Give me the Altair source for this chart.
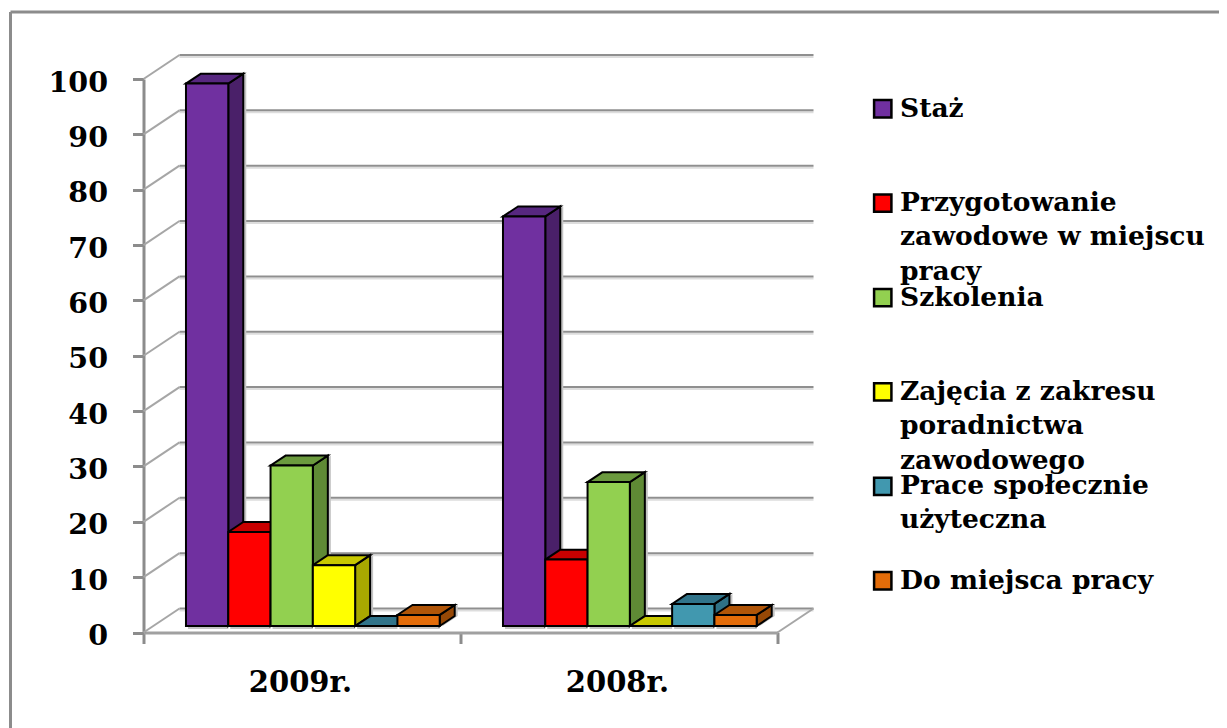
import altair as alt
import pandas as pd

categories = ["2009r.", "2008r."]
series = [
    "Staż",
    "Przygotowanie|zawodowe w miejscu|pracy",
    "Szkolenia",
    "Zajęcia z zakresu|poradnictwa|zawodowego",
    "Prace społecznie|użyteczna",
    "Do miejsca pracy",
]
values_2009 = [98, 17, 29, 11, 0, 2]
values_2008 = [74, 12, 26, 0, 4, 2]
front_colors = ["#7030a0", "#ff0000", "#92d050", "#ffff00", "#4198af", "#e36c09"]
side_colors = ["#4a2069", "#a80000", "#5f8a35", "#a8a800", "#2f7186", "#964806"]
top_colors = ["#572780", "#c80000", "#6b9a3e", "#c8c800", "#31748a", "#b05508"]
y_ticks = list(range(0, 101, 10))

# oblique projection, in axis units
BAR_START, BAR_W = 0.134, 0.1334
BAR_DX, BAR_DY = 0.0473, 1.8
WALL_DX, WALL_DY = 0.1136, 4.34
LIFT = 1.17

# legend continuation lines, in axis units
LEG_X = 2.3865
LEG_Y0, LEG_ROW, LEG_LINE = 93.25, 17.0, 6.32

fronts, sides, tops = [], [], []
for g, vals in enumerate([values_2009, values_2008]):
    for s, v in enumerate(vals):
        bid = f"{g}-{s}"
        xl = g + BAR_START + s * BAR_W
        xr = xl + BAR_W
        low, high = LIFT, LIFT + v
        fronts.append(dict(bid=bid, series=series[s], xl=xl, xr=xr, low=low, high=high))
        sides.append(dict(bid=bid, col=side_colors[s], x=xr, y=low, y2=high))
        sides.append(dict(bid=bid, col=side_colors[s], x=xr + BAR_DX, y=low + BAR_DY, y2=high + BAR_DY))
        tops.append(dict(bid=bid, col=top_colors[s], y=high, x=xl, x2=xr))
        tops.append(dict(bid=bid, col=top_colors[s], y=high + BAR_DY, x=xl + BAR_DX, x2=xr + BAR_DX))
fronts, sides, tops = pd.DataFrame(fronts), pd.DataFrame(sides), pd.DataFrame(tops)

grid = pd.DataFrame([dict(v=t, vb=t + WALL_DY, x0=0, xb=WALL_DX, xe=2 + WALL_DX) for t in y_ticks])
floor_right = pd.DataFrame([dict(x=2, y=0, x2=2 + WALL_DX, y2=WALL_DY)])
labels = pd.DataFrame([dict(x=i + 0.5, t=c) for i, c in enumerate(categories)])

more_lines = []
for r, name in enumerate(series):
    for k, line in enumerate(name.split("|")[1:], start=1):
        more_lines.append(dict(x=LEG_X, y=LEG_Y0 - r * LEG_ROW - k * LEG_LINE, t=line))
more_lines = pd.DataFrame(more_lines)

FONT = "DejaVu Serif"
LEG_SIZE = 26.5
xs = alt.Scale(domain=[0, 2], nice=False, zero=False)
ys = alt.Scale(domain=[0, 100], nice=False, zero=False)
x_axis = alt.Axis(values=[0, 1, 2], labels=False, title=None, grid=False, tickSize=11, tickWidth=3,
                  tickColor="#8c8c8c", domainColor="#a0a0a0", domainWidth=3)
y_axis = alt.Axis(values=y_ticks, title=None, grid=False, tickSize=11, tickWidth=3, tickColor="#8c8c8c",
                  domainColor="#8c8c8c", domainWidth=3, labelFont=FONT, labelFontWeight="bold",
                  labelFontSize=28.5, labelColor="black", labelPadding=25, labelOffset=3)


def X(f):
    return alt.X(f"{f}:Q", scale=xs, axis=x_axis)


def Y(f):
    return alt.Y(f"{f}:Q", scale=ys, axis=y_axis, stack=None)


frame_left = alt.Chart(grid.head(1)).mark_rule(color="#8c8c8c", strokeWidth=3).encode(
    x=alt.value(-133), y=alt.value(-67), y2=alt.value(660))
frame_top = alt.Chart(grid.head(1)).mark_rule(color="#8c8c8c", strokeWidth=3).encode(
    x=alt.value(-133), x2=alt.value(1100), y=alt.value(-67))

grid_shadow = alt.Chart(grid).mark_rule(color="#dddddd", strokeWidth=2, yOffset=2).encode(
    x=X("xb"), x2="xe:Q", y=Y("vb"))
grid_back = alt.Chart(grid).mark_rule(color="#8f8f8f", strokeWidth=2).encode(
    x=X("xb"), x2="xe:Q", y=Y("vb"))
grid_diag = alt.Chart(grid).mark_rule(color="#a6a6a6", strokeWidth=2).encode(
    x=X("x0"), x2="xb:Q", y=Y("v"), y2="vb:Q")
floor_diag = alt.Chart(floor_right).mark_rule(color="#a6a6a6", strokeWidth=2).encode(
    x=X("x"), x2="x2:Q", y=Y("y"), y2="y2:Q")

shadow_side = alt.Chart(sides).mark_area(color="#c4c4c4", xOffset=3).encode(
    x=X("x"), y=Y("y"), y2="y2:Q", detail="bid:N")
shadow_front = alt.Chart(fronts).mark_bar(color="#c4c4c4", xOffset=2, yOffset=3).encode(
    x=X("xl"), x2="xr:Q", y=Y("low"), y2="high:Q")

side_layer = alt.Chart(sides).mark_area(stroke="black", strokeWidth=2).encode(
    x=X("x"), y=Y("y"), y2="y2:Q", detail="bid:N", fill=alt.Fill("col:N", scale=None))
top_layer = alt.Chart(tops).mark_area(orient="horizontal", stroke="black", strokeWidth=2).encode(
    y=Y("y"), x=X("x"), x2="x2:Q", detail="bid:N", fill=alt.Fill("col:N", scale=None))

front_layer = alt.Chart(fronts).mark_bar(stroke="black", strokeWidth=2).encode(
    x=X("xl"), x2="xr:Q", y=Y("low"), y2="high:Q",
    color=alt.Color("series:N", scale=alt.Scale(domain=series, range=front_colors), legend=alt.Legend(
        orient="none", legendX=726, legendY=16.5, title=None, padding=0, columns=1,
        symbolType="square", symbolSize=300, symbolStrokeColor="black", symbolStrokeWidth=2.5,
        symbolOpacity=1, labelFont=FONT, labelFontWeight="bold", labelFontSize=LEG_SIZE, labelColor="black",
        labelLimit=500, rowPadding=66.4, labelOffset=4, labelBaseline="middle",
        labelExpr="split(datum.label, '|')[0]", values=series)))

legend_more = alt.Chart(more_lines).mark_text(font=FONT, fontWeight="bold", fontSize=LEG_SIZE, color="black",
                                              align="left", baseline="alphabetic").encode(
    x=X("x"), y=Y("y"), text="t:N")

cat_text = alt.Chart(labels).mark_text(font=FONT, fontWeight="bold", fontSize=29, color="black",
                                       align="center", baseline="alphabetic", dx=-1.5).encode(
    x=X("x"), y=alt.value(612.7), text="t:N")

chart = alt.layer(frame_left, frame_top, grid_shadow, grid_back, grid_diag, floor_diag,
                  shadow_side, shadow_front, side_layer, top_layer, front_layer, legend_more, cat_text).properties(
    width=634, height=553.5, background="white",
    padding={"left": 135.5, "top": 71, "right": 441.5, "bottom": 95.5},
    autosize=alt.AutoSizeParams(type="none"),
    config=alt.Config(view=alt.ViewConfig(stroke=None)),
)

chart.save("out.html", embed_options={"renderer": "svg", "actions": False})
